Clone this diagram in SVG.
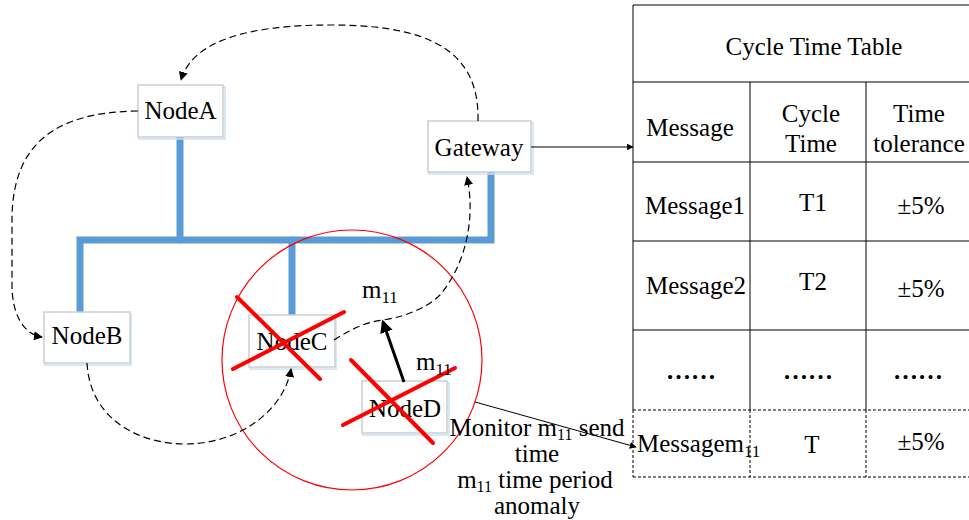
<svg xmlns="http://www.w3.org/2000/svg" width="969" height="520" viewBox="0 0 969 520">
  <style>
    text { font-family: "Liberation Serif", "Times New Roman", serif; font-size: 25px; fill: #000; }
    .mid { text-anchor: middle; }
    .sub { font-size: 17px; }
    .note { font-size: 23.5px; }
    .note .sub { font-size: 16px; }
    .box { fill: #fff; stroke: #c9cfd6; stroke-width: 1.5; }
    .shade { fill: none; stroke: #cfe0f3; stroke-width: 1.5; }
    .bus { fill: none; stroke: #5b9bd5; stroke-width: 7; stroke-linecap: round; stroke-linejoin: miter; }
    .dash { fill: none; stroke: #000; stroke-width: 1.2; stroke-dasharray: 7 4; }
    .thin { fill: none; stroke: #000; stroke-width: 1; }
    .cross { stroke: #ff0000; stroke-width: 4; stroke-linecap: round; }
    .grid { stroke: #000; stroke-width: 1; fill: none; }
    .grid-dash { stroke: #000; stroke-width: 1; fill: none; stroke-dasharray: 3 2; }
  </style>
  <defs>
    <marker id="head" viewBox="0 0 10 10" refX="9" refY="5" markerWidth="9" markerHeight="9" markerUnits="userSpaceOnUse" orient="auto">
      <path d="M0,0 L10,5 L0,10 Z" fill="#000"/>
    </marker>
    <marker id="head-small" viewBox="0 0 10 10" refX="9" refY="5" markerWidth="7" markerHeight="7" markerUnits="userSpaceOnUse" orient="auto">
      <path d="M0,0 L10,5 L0,10 Z" fill="#000"/>
    </marker>
    <marker id="head-bold" viewBox="0 0 10 10" refX="8" refY="5" markerWidth="13" markerHeight="13" markerUnits="userSpaceOnUse" orient="auto">
      <path d="M0,0 L10,5 L0,10 Z" fill="#000"/>
    </marker>
  </defs>

  <!-- bus wiring -->
  <g id="bus">
    <path class="bus" d="M180,137 L180,240"/>
    <path class="bus" d="M80,312 L80,240 L491,240 L491,172"/>
    <path class="bus" d="M292,240 L292,314"/>
  </g>

  <!-- monitored area -->
  <circle id="monitor-zone" cx="352" cy="360" r="130" fill="none" stroke="#ff0000" stroke-width="1.2"/>

  <!-- nodes -->
  <g id="nodeA">
    <rect class="shade" x="139" y="87" width="86" height="52"/>
    <rect class="box" x="138" y="85" width="85" height="52"/>
    <text class="mid" x="180.5" y="119">NodeA</text>
  </g>
  <g id="gateway">
    <rect class="shade" x="429" y="123" width="104" height="51"/>
    <rect class="box" x="428" y="121" width="103" height="51"/>
    <text class="mid" x="479" y="156">Gateway</text>
  </g>
  <g id="nodeB">
    <rect class="shade" x="45" y="314" width="86" height="51"/>
    <rect class="box" x="44" y="312" width="86" height="51"/>
    <text class="mid" x="87" y="344">NodeB</text>
  </g>
  <g id="nodeC">
    <rect class="shade" x="250" y="317" width="86" height="52"/>
    <rect class="box" x="249" y="315" width="86" height="52"/>
    <text class="mid" x="292" y="350">NodeC</text>
  </g>
  <g id="nodeD">
    <rect class="shade" x="363" y="383" width="86" height="52"/>
    <rect class="box" x="362" y="381" width="85" height="52"/>
    <text class="mid" x="405" y="417">NodeD</text>
  </g>

  <!-- red crosses over failed nodes -->
  <g id="crosses">
    <line class="cross" x1="237" y1="297" x2="320" y2="379"/>
    <line class="cross" x1="233" y1="369" x2="344" y2="312"/>
    <line class="cross" x1="351" y1="360" x2="433" y2="443"/>
    <line class="cross" x1="343" y1="425" x2="455" y2="368"/>
  </g>

  <!-- connectors -->
  <g id="connectors">
    <path class="dash" d="M478,121 C480,45 420,25 330,25 C245,25 192,42 181,80" marker-end="url(#head)"/>
    <path class="dash" d="M138,111 C60,112 12,140 12,220 L12,285 C12,312 22,334 42,337" marker-end="url(#head)"/>
    <path class="dash" d="M87,363 C90,420 140,444 185,444 C240,444 284,410 291,369" marker-end="url(#head)"/>
    <path class="dash" d="M334,340 C350,330 365,322 383,320 C410,316 430,305 440,295 C465,265 476,220 467,177" marker-end="url(#head)"/>
    <line x1="404" y1="382" x2="383" y2="322" stroke="#000" stroke-width="3" marker-end="url(#head-bold)"/>
    <line class="thin" x1="531" y1="147" x2="633" y2="147" marker-end="url(#head-small)"/>
    <line class="thin" x1="475" y1="402" x2="636" y2="447" marker-end="url(#head-small)"/>
  </g>

  <!-- message labels -->
  <g id="labels">
    <text x="362" y="298">m<tspan class="sub" dy="5">11</tspan></text>
    <text x="416" y="370">m<tspan class="sub" dy="5">11</tspan></text>
    <g class="note">
      <text class="mid" x="537" y="436">Monitor m<tspan class="sub" dy="4">11</tspan><tspan dy="-4">  send</tspan></text>
      <text class="mid" x="537" y="462">time</text>
      <text class="mid" x="535" y="488">m<tspan class="sub" dy="4">11</tspan><tspan dy="-4"> time period</tspan></text>
      <text class="mid" x="537" y="514">anomaly</text>
    </g>
  </g>

  <!-- cycle time table -->
  <g id="cycle-table">
    <path class="grid" d="M633,5 L969,5 M633,5 L633,410 M633,82 L969,82 M633,162 L969,162 M633,241 L969,241 M633,330 L969,330 M750,82 L750,410 M866,82 L866,410"/>
    <path class="grid-dash" d="M633,410 L969,410 M633,477 L969,477 M633,410 L633,477 M750,410 L750,477 M866,410 L866,477"/>
    <text class="mid" x="814" y="55">Cycle Time Table</text>
    <text class="mid" x="690" y="136">Message</text>
    <text class="mid" x="811" y="122">Cycle</text>
    <text class="mid" x="811" y="152">Time</text>
    <text class="mid" x="919" y="122">Time</text>
    <text class="mid" x="919" y="152">tolerance</text>
    <text class="mid" x="695" y="214">Message1</text>
    <text class="mid" x="813" y="211">T1</text>
    <text class="mid" x="921" y="214">±5%</text>
    <text class="mid" x="696" y="294">Message2</text>
    <text class="mid" x="813" y="290">T2</text>
    <text class="mid" x="921" y="297">±5%</text>
    <text class="mid" x="691" y="379" font-weight="bold">……</text>
    <text class="mid" x="808" y="379" font-weight="bold">……</text>
    <text class="mid" x="918" y="379" font-weight="bold">……</text>
    <text x="637" y="452">Messagem<tspan class="sub" dy="5">11</tspan></text>
    <text class="mid" x="812" y="453">T</text>
    <text class="mid" x="921" y="450">±5%</text>
  </g>
</svg>
